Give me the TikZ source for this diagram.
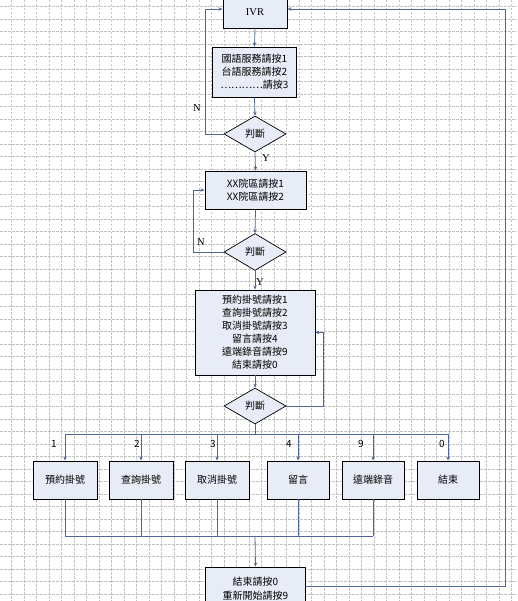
\documentclass[tikz,border=0pt]{standalone}
\usepackage{fontspec}
\setmainfont{Liberation Serif}
\newfontfamily\cjk{Noto Sans CJK TC}
\usetikzlibrary{shapes.geometric,arrows.meta}
\definecolor{conn}{RGB}{80,104,150}
\definecolor{boxfill}{RGB}{232,236,246}
\definecolor{gridc}{RGB}{195,195,195}
\tikzset{
  gridline/.style={gridc,line width=0.6pt,dash pattern=on 2.5pt off 1.5pt},
  flowbox/.style={draw=black,line width=0.9pt,fill=boxfill,rectangle,inner sep=0pt,align=center,font=\cjk\fontsize{10}{13}\selectfont},
  decide/.style={draw=black,line width=0.7pt,fill=boxfill,diamond,inner sep=0pt,font=\cjk\fontsize{10}{13}\selectfont},
  link/.style={draw=conn,line width=0.8pt},
  linkarrow/.style={link,-{Stealth[length=4pt,width=3.5pt]}},
  lbl/.style={font=\fontsize{10.5}{12}\selectfont,inner sep=0pt},
  numlbl/.style={font=\cjk\fontsize{10}{12}\selectfont,inner sep=0pt}
}
\begin{document}
\begin{tikzpicture}[x=1pt,y=-1pt]
\useasboundingbox (0,0) rectangle (517,601);
\fill[white] (0,0) rectangle (517,601);
\foreach \i in {0,...,40} \draw[gridline] ({11.7+12.5*\i},0) -- ({11.7+12.5*\i},601);
\foreach \j in {0,...,47} \draw[gridline] (0,{6.5+12.5*\j}) -- (517,{6.5+12.5*\j});

% nodes
\node[flowbox,minimum width=64pt,minimum height=38pt] (ivr) at (255,9) {};
\node[lbl] at (255,12) {IVR};
\node[flowbox,minimum width=84pt,minimum height=50pt] (b2) at (254.5,72) {國語服務請按1\\台語服務請按2\\…………請按3};
\node[decide,minimum width=62pt,minimum height=36pt] (d1) at (255,134) {判斷};
\node[flowbox,minimum width=101pt,minimum height=38pt] (b3) at (255.5,190) {XX院區請按1\\XX院區請按2};
\node[decide,minimum width=62pt,minimum height=37pt] (d2) at (255,252) {判斷};
\node[flowbox,minimum width=120pt,minimum height=85pt] (b4) at (255,332.5) {預約掛號請按1\\查詢掛號請按2\\取消掛號請按3\\留言請按4\\遠端錄音請按9\\結束請按0};
\node[decide,minimum width=62pt,minimum height=36pt] (d3) at (255,406) {判斷};
\node[flowbox,minimum width=64pt,minimum height=38pt] (e1) at (65,480) {預約掛號};
\node[flowbox,minimum width=64pt,minimum height=38pt] (e2) at (141,480) {查詢掛號};
\node[flowbox,minimum width=64pt,minimum height=38pt] (e3) at (217,480) {取消掛號};
\node[flowbox,minimum width=62pt,minimum height=38pt] (e4) at (298,480) {留言};
\node[flowbox,minimum width=62pt,minimum height=38pt] (e5) at (373,480) {遠端錄音};
\node[flowbox,minimum width=62pt,minimum height=38pt] (e6) at (448,480) {結束};
\node[flowbox,minimum width=100pt,minimum height=38pt] (b5) at (255.5,586) {};
\node[font=\cjk\fontsize{10}{14}\selectfont,align=center,inner sep=0pt] at (255.5,589) {結束請按0\\重新開始請按9};

\coordinate (bus) at (255,434);
\coordinate (col) at (255,536);

% connectors
\draw[linkarrow] (ivr.south) -- (b2.north);
\draw[linkarrow] (b2.south) -- (d1.north);
\draw[linkarrow] (d1.south) -- (b3.north);
\draw[linkarrow] (d1.west) -- ++(-18,0) |- (ivr.west);
\draw[linkarrow] (b3.south) -- (d2.north);
\draw[linkarrow] (d2.west) -- ++(-30,0) |- (b3.west);
\draw[linkarrow] (d2.south) -- (b4.north);
\draw[linkarrow] (b4.south) -- (d3.north);
\draw[linkarrow] (d3.east) -- ++(37,0) |- (b4.east);
\draw[link] (d3.south) -- (bus);
\draw[link] (e1.north |- bus) -- (e6.north |- bus);
\foreach \n in {e1,e2,e3,e4,e5,e6} \draw[linkarrow] (\n.north |- bus) -- (\n.north);
\foreach \n in {e1,e2,e3,e4,e5} \draw[link] (\n.south) -- (\n.south |- col);
\draw[link] (e1.south |- col) -- (e5.south |- col);
\draw[linkarrow] (col) -- (b5.north);
\draw[linkarrow] (b5.east) -- (505,586) |- (ivr.east);

% labels
\node[lbl] at (197,108) {N};
\node[lbl] at (266,158) {Y};
\node[lbl] at (201,242) {N};
\node[lbl] at (260,282) {Y};
\node[numlbl] at (54,444) {1};
\node[numlbl] at (137,444) {2};
\node[numlbl] at (213,444) {3};
\node[numlbl] at (289,444) {4};
\node[numlbl] at (361,444) {9};
\node[numlbl] at (442,444) {0};
\end{tikzpicture}
\end{document}
